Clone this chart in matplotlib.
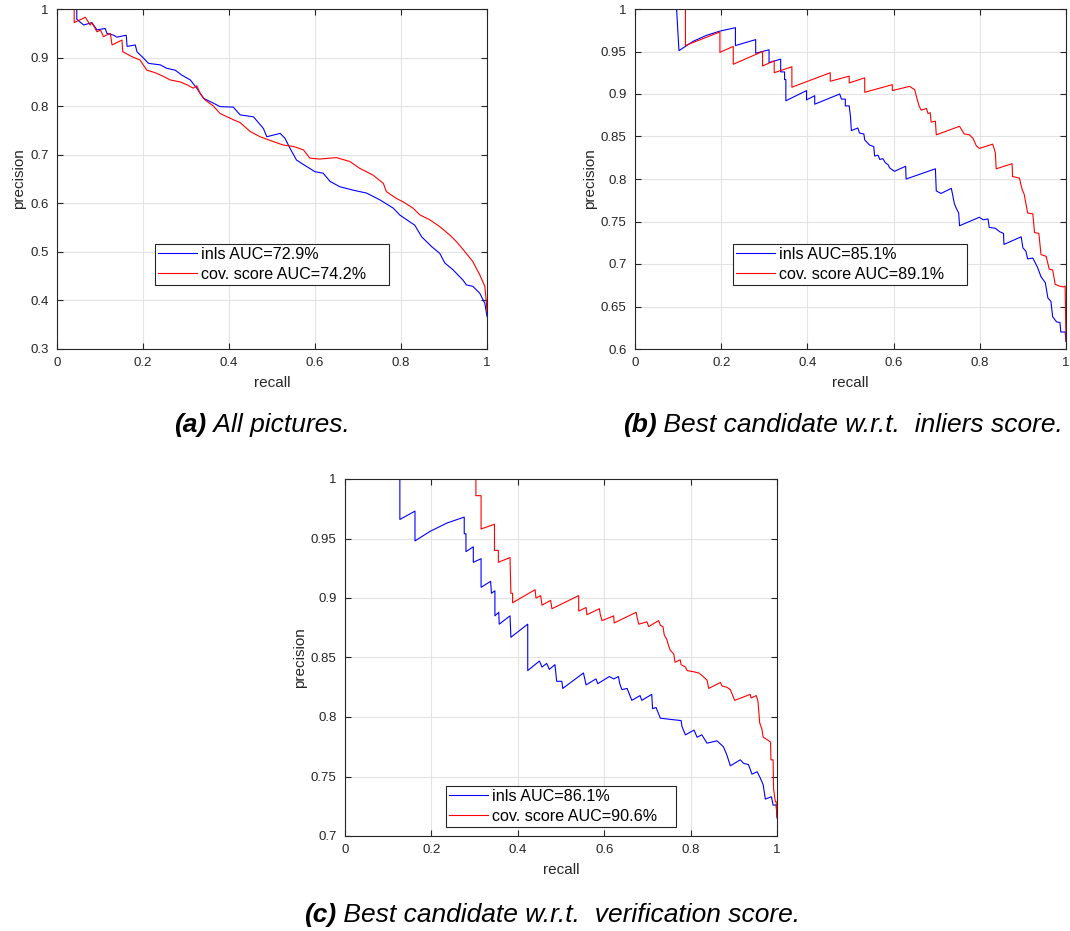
import numpy as np
import matplotlib
matplotlib.use("Agg")
import matplotlib.pyplot as plt
from matplotlib.ticker import FormatStrFormatter, MultipleLocator

plt.rcParams['font.family'] = ['Liberation Sans', 'DejaVu Sans']

# (a) all pictures
a_inls_r = [0, 0.046, 0.046, 0.062, 0.081, 0.093, 0.112, 0.116, 0.132, 0.139, 0.161, 0.163, 0.182, 0.186,
            0.201, 0.213, 0.240, 0.255, 0.275, 0.290, 0.310, 0.325, 0.341, 0.364, 0.379, 0.410, 0.426, 0.457,
            0.480, 0.488, 0.519, 0.530, 0.542, 0.557, 0.580, 0.600, 0.619, 0.635, 0.658, 0.689, 0.720, 0.751,
            0.782, 0.797, 0.820, 0.832, 0.848, 0.871, 0.890, 0.902, 0.921, 0.944, 0.952, 0.967, 0.983, 0.995, 1.0]
a_inls_p = [1, 1, 0.979, 0.967, 0.972, 0.957, 0.960, 0.950, 0.946, 0.942, 0.946, 0.923, 0.926, 0.912,
            0.899, 0.888, 0.885, 0.878, 0.874, 0.864, 0.854, 0.837, 0.816, 0.806, 0.799, 0.798, 0.782, 0.778,
            0.754, 0.737, 0.744, 0.734, 0.713, 0.689, 0.676, 0.665, 0.662, 0.645, 0.634, 0.627, 0.621, 0.607,
            0.590, 0.576, 0.562, 0.555, 0.531, 0.511, 0.497, 0.477, 0.463, 0.442, 0.432, 0.429, 0.415, 0.394, 0.367]
a_cov_r = [0, 0.040, 0.040, 0.066, 0.077, 0.081, 0.093, 0.101, 0.108, 0.124, 0.128, 0.151, 0.153, 0.174,
           0.193, 0.209, 0.228, 0.248, 0.263, 0.286, 0.302, 0.317, 0.325, 0.333, 0.344, 0.364, 0.379, 0.410,
           0.426, 0.449, 0.472, 0.503, 0.526, 0.550, 0.573, 0.588, 0.611, 0.635, 0.650, 0.681, 0.704, 0.735,
           0.759, 0.766, 0.789, 0.805, 0.828, 0.844, 0.867, 0.890, 0.913, 0.929, 0.948, 0.967, 0.983, 0.995,
           0.998, 1.0]
a_cov_p = [1, 1, 0.972, 0.983, 0.967, 0.972, 0.953, 0.957, 0.943, 0.950, 0.926, 0.936, 0.912, 0.902,
           0.895, 0.874, 0.869, 0.861, 0.854, 0.850, 0.844, 0.837, 0.842, 0.826, 0.813, 0.800, 0.785, 0.772,
           0.766, 0.748, 0.737, 0.727, 0.720, 0.717, 0.710, 0.693, 0.691, 0.693, 0.694, 0.686, 0.672, 0.658,
           0.641, 0.624, 0.610, 0.603, 0.590, 0.576, 0.566, 0.552, 0.535, 0.521, 0.501, 0.480, 0.453, 0.429,
           0.401, 0.377]

# (b) best candidate w.r.t. inliers score
b_inls_r = [0, 0.0965, 0.102, 0.135, 0.166, 0.197, 0.233, 0.233, 0.280, 0.280, 0.311, 0.311, 0.338, 0.338,
            0.347, 0.347, 0.350, 0.350, 0.398, 0.398, 0.417, 0.417, 0.475, 0.479, 0.488, 0.488, 0.497, 0.500,
            0.502, 0.517, 0.521, 0.531, 0.533, 0.544, 0.554, 0.556, 0.564, 0.568, 0.575, 0.581, 0.587, 0.591,
            0.602, 0.628, 0.629, 0.697, 0.699, 0.710, 0.734, 0.741, 0.745, 0.751, 0.753, 0.799, 0.808, 0.819,
            0.822, 0.836, 0.846, 0.855, 0.856, 0.896, 0.900, 0.907, 0.911, 0.923, 0.930, 0.934, 0.942, 0.952,
            0.958, 0.965, 0.969, 0.978, 0.986, 0.988, 0.998, 1.0]
b_inls_p = [1, 1, 0.951, 0.962, 0.969, 0.974, 0.978, 0.957, 0.964, 0.948, 0.952, 0.937, 0.941, 0.926,
            0.926, 0.917, 0.917, 0.892, 0.904, 0.893, 0.898, 0.888, 0.900, 0.894, 0.894, 0.886, 0.886, 0.873,
            0.857, 0.860, 0.854, 0.853, 0.846, 0.840, 0.838, 0.827, 0.828, 0.823, 0.824, 0.819, 0.817, 0.813,
            0.809, 0.815, 0.800, 0.812, 0.786, 0.783, 0.789, 0.771, 0.766, 0.760, 0.745, 0.755, 0.752, 0.753,
            0.743, 0.742, 0.738, 0.736, 0.723, 0.732, 0.719, 0.715, 0.706, 0.707, 0.700, 0.696, 0.685, 0.678,
            0.660, 0.656, 0.638, 0.632, 0.631, 0.620, 0.620, 0.609]
b_cov_r = [0, 0.117, 0.117, 0.197, 0.197, 0.228, 0.228, 0.296, 0.296, 0.323, 0.323, 0.340, 0.364, 0.364,
           0.453, 0.453, 0.497, 0.497, 0.533, 0.533, 0.597, 0.597, 0.637, 0.649, 0.653, 0.659, 0.664, 0.676,
           0.680, 0.685, 0.687, 0.697, 0.699, 0.753, 0.759, 0.764, 0.776, 0.784, 0.792, 0.799, 0.830, 0.836,
           0.838, 0.875, 0.876, 0.892, 0.898, 0.903, 0.911, 0.923, 0.927, 0.937, 0.942, 0.954, 0.961, 0.969,
           0.975, 0.985, 0.994, 0.998, 1.0]
b_cov_p = [1, 1, 0.957, 0.973, 0.949, 0.956, 0.935, 0.950, 0.933, 0.939, 0.925, 0.928, 0.932, 0.908,
           0.925, 0.915, 0.921, 0.913, 0.919, 0.902, 0.911, 0.904, 0.909, 0.905, 0.897, 0.886, 0.881, 0.883,
           0.877, 0.878, 0.867, 0.868, 0.852, 0.862, 0.857, 0.853, 0.852, 0.848, 0.839, 0.836, 0.841, 0.831,
           0.812, 0.818, 0.803, 0.801, 0.788, 0.782, 0.760, 0.759, 0.737, 0.736, 0.711, 0.709, 0.694, 0.693,
           0.676, 0.674, 0.673, 0.674, 0.609]

# (c) best candidate w.r.t. verification score
c_inls_r = [0, 0.127, 0.127, 0.162, 0.162, 0.197, 0.236, 0.276, 0.276, 0.280, 0.280, 0.297, 0.297, 0.315,
            0.315, 0.337, 0.339, 0.347, 0.347, 0.356, 0.357, 0.382, 0.384, 0.423, 0.423, 0.450, 0.456, 0.467,
            0.473, 0.486, 0.488, 0.490, 0.502, 0.504, 0.552, 0.558, 0.581, 0.585, 0.612, 0.622, 0.633, 0.636,
            0.641, 0.653, 0.664, 0.683, 0.687, 0.710, 0.712, 0.720, 0.730, 0.753, 0.778, 0.780, 0.788, 0.808,
            0.815, 0.826, 0.838, 0.861, 0.876, 0.884, 0.892, 0.915, 0.923, 0.934, 0.942, 0.954, 0.961, 0.968,
            0.973, 0.987, 0.991, 0.998, 1.0]
c_inls_p = [1, 1, 0.966, 0.973, 0.948, 0.956, 0.963, 0.968, 0.954, 0.954, 0.939, 0.943, 0.930, 0.933,
            0.909, 0.914, 0.904, 0.906, 0.885, 0.888, 0.878, 0.885, 0.867, 0.878, 0.839, 0.847, 0.842, 0.845,
            0.840, 0.844, 0.837, 0.830, 0.830, 0.824, 0.837, 0.827, 0.832, 0.828, 0.834, 0.832, 0.834, 0.828,
            0.823, 0.824, 0.814, 0.818, 0.814, 0.819, 0.807, 0.808, 0.799, 0.798, 0.797, 0.792, 0.785, 0.789,
            0.783, 0.785, 0.778, 0.780, 0.775, 0.768, 0.759, 0.764, 0.761, 0.760, 0.752, 0.754, 0.749, 0.743,
            0.731, 0.733, 0.726, 0.726, 0.716]
c_cov_r = [0, 0.303, 0.303, 0.315, 0.315, 0.346, 0.346, 0.355, 0.355, 0.382, 0.384, 0.388, 0.388, 0.440,
           0.442, 0.453, 0.456, 0.476, 0.479, 0.541, 0.541, 0.558, 0.560, 0.589, 0.591, 0.595, 0.622, 0.623,
           0.674, 0.676, 0.680, 0.699, 0.703, 0.726, 0.730, 0.736, 0.739, 0.745, 0.749, 0.753, 0.761, 0.764,
           0.776, 0.778, 0.788, 0.792, 0.807, 0.819, 0.826, 0.838, 0.842, 0.869, 0.873, 0.884, 0.892, 0.902,
           0.938, 0.940, 0.952, 0.956, 0.960, 0.965, 0.968, 0.977, 0.985, 0.986, 0.991, 0.992, 0.996, 0.998, 1.0]
c_cov_p = [1, 1, 0.986, 0.986, 0.958, 0.962, 0.940, 0.940, 0.930, 0.934, 0.904, 0.904, 0.896, 0.907,
           0.900, 0.902, 0.894, 0.898, 0.891, 0.902, 0.889, 0.892, 0.886, 0.891, 0.886, 0.881, 0.885, 0.879,
           0.888, 0.884, 0.878, 0.880, 0.876, 0.881, 0.877, 0.876, 0.869, 0.865, 0.860, 0.856, 0.853, 0.846,
           0.848, 0.844, 0.842, 0.839, 0.838, 0.837, 0.835, 0.831, 0.824, 0.829, 0.826, 0.825, 0.823, 0.814,
           0.819, 0.816, 0.818, 0.813, 0.795, 0.790, 0.783, 0.781, 0.779, 0.764, 0.764, 0.740, 0.729, 0.729, 0.715]

panels = [
    dict(rect=[57, 9, 430, 340], ylim=(0.3, 1), ystep=0.1,
         inls=(a_inls_r, a_inls_p), cov=(a_cov_r, a_cov_p),
         auc=("72.9", "74.2"), leg=(0.228, 0.188, 0.544, 0.124),
         tag="(a)", caption=" All pictures.", cap_xy=(262, 425)),
    dict(rect=[635, 9, 431, 340], ylim=(0.6, 1), ystep=0.05,
         inls=(b_inls_r, b_inls_p), cov=(b_cov_r, b_cov_p),
         auc=("85.1", "89.1"), leg=(0.227, 0.188, 0.544, 0.124),
         tag="(b)", caption=" Best candidate w.r.t.  inliers score.", cap_xy=(843, 425)),
    dict(rect=[345, 479, 432, 357], ylim=(0.7, 1), ystep=0.05,
         inls=(c_inls_r, c_inls_p), cov=(c_cov_r, c_cov_p),
         auc=("86.1", "90.6"), leg=(0.234, 0.025, 0.532, 0.115),
         tag="(c)", caption=" Best candidate w.r.t.  verification score.", cap_xy=(552, 915)),
]

W, H = 1070, 931
fig = plt.figure(figsize=(W / 100, H / 100), dpi=100)
axcol = '#262626'

for p in panels:
    x0, y0, w, h = p['rect']
    ax = fig.add_axes([x0 / W, 1 - (y0 + h) / H, w / W, h / H])
    ax.plot(*p['inls'], color=(0, 0, 1), lw=0.8, label="inls AUC=%s%%" % p['auc'][0])
    ax.plot(*p['cov'], color=(1, 0, 0), lw=0.8, label="cov. score AUC=%s%%" % p['auc'][1])
    ax.set_xlim(0, 1)
    ax.set_ylim(*p['ylim'])
    ax.xaxis.set_major_locator(MultipleLocator(0.2))
    ax.yaxis.set_major_locator(MultipleLocator(p['ystep']))
    ax.xaxis.set_major_formatter(FormatStrFormatter('%g'))
    ax.yaxis.set_major_formatter(FormatStrFormatter('%g'))
    ax.grid(True, color='#e3e3e3', lw=0.8)
    ax.set_axisbelow(True)
    ax.tick_params(direction='in', top=True, right=True, length=4, width=0.8,
                   color=axcol, labelcolor=axcol, labelsize=9.5, pad=6)
    for s in ax.spines.values():
        s.set_color(axcol)
        s.set_linewidth(0.8)
    ax.set_xlabel("recall", fontsize=11, color=axcol, labelpad=5)
    ax.set_ylabel("precision", fontsize=11, color=axcol, labelpad=3)
    leg = ax.legend(loc='lower left', bbox_to_anchor=p['leg'], mode='expand',
                    borderaxespad=0, fontsize=11.6, fancybox=False, edgecolor=axcol,
                    framealpha=1, handlelength=2.4, handletextpad=0.25,
                    labelspacing=0.3, borderpad=0.2)
    leg.get_frame().set_linewidth(0.8)

    # bold tag followed by italic caption, centred on cx
    cx, cy = p['cap_xy']
    t = fig.text(0, 0, p['tag'], fontsize=19, fontweight='bold', style='italic')
    tmp = fig.text(0, 0, p['caption'], fontsize=19, style='italic')
    fig.canvas.draw()
    wt = t.get_window_extent().width
    wb = tmp.get_window_extent().width
    tmp.remove()
    left = cx - (wt + wb) / 2
    t.set_position((left / W, 1 - cy / H))
    t.set_va('center')
    fig.text((left + wt) / W, 1 - cy / H, p['caption'], fontsize=19,
             style='italic', ha='left', va='center')

fig.savefig("out.png", dpi=100)
